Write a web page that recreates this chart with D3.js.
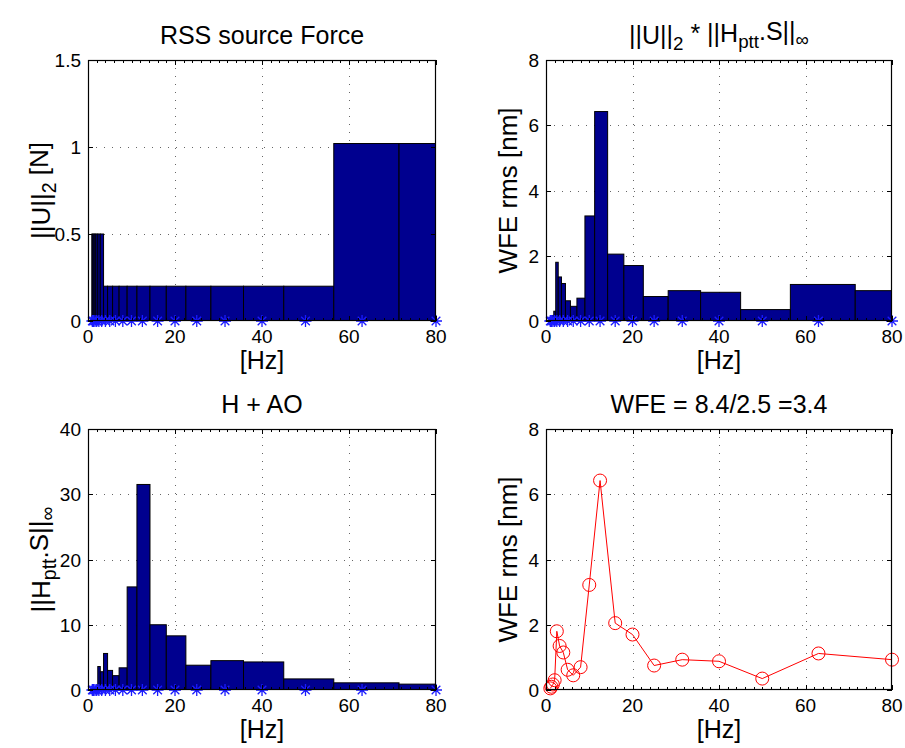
<!DOCTYPE html>
<html>
<head>
<meta charset="utf-8">
<script src="https://cdn.jsdelivr.net/npm/d3@7"></script>
<style>
  body { margin: 0; background: #fff; }
  text { font-family: "Liberation Sans", Arial, Helvetica, sans-serif; fill: #000; }
</style>
</head>
<body>
<svg id="chart" width="905" height="748"></svg>
<script>
// third-octave band centres [Hz]
const freqs = [1, 1.25, 1.6, 2, 2.5, 3.15, 4, 5, 6.3, 8, 10, 12.5, 16, 20, 25, 31.5, 40, 50, 63, 80];
// ||U||_2 [N]
const forceRss = [0.5, 0.5, 0.5, 0.5, 0.5, 0.5, 0.2, 0.2, 0.2, 0.2, 0.2, 0.2, 0.2, 0.2, 0.2, 0.2, 0.2, 0.2, 1.02, 1.02];
// ||Hptt.S||_inf
const hAo = [0.1, 0.2, 0.3, 0.6, 3.6, 2.8, 5.6, 3.0, 2.2, 3.4, 15.8, 31.5, 10.0, 8.3, 3.8, 4.5, 4.3, 1.7, 1.1, 0.9];
// WFE rms [nm]
const wfe = [0.05, 0.1, 0.17, 0.3, 1.8, 1.35, 1.15, 0.62, 0.45, 0.7, 3.22, 6.42, 2.05, 1.7, 0.75, 0.93, 0.88, 0.35, 1.12, 0.93];

const xTicks = [0, 20, 40, 60, 80];
const forceTicks = [0, 0.5, 1, 1.5];
const wfeTicks = [0, 2, 4, 6, 8];
const hTicks = [0, 10, 20, 30, 40];

const svg = d3.select("#chart");
const barColor = "#00008f";
const starColor = "#1a1aff";

// bin edges halfway between neighbouring centres
const edges = freqs.map((f, i) => {
  const n = freqs.length;
  const lo = i === 0 ? f - (freqs[1] - f) / 2 : (freqs[i - 1] + f) / 2;
  const hi = i === n - 1 ? f + (f - freqs[n - 2]) / 2 : (f + freqs[i + 1]) / 2;
  return [lo, hi];
});

function addText(sel, parts) {
  // parts: [text, "sub"|null]
  let sub = false;
  parts.forEach(([t, kind]) => {
    const isSub = kind === "sub";
    const ts = sel.append("tspan").text(t);
    if (isSub && !sub) ts.attr("dy", "0.3em").attr("font-size", "0.75em");
    else if (isSub) ts.attr("font-size", "0.75em");
    else if (!isSub && sub) ts.attr("dy", "-0.3em");
    sub = isSub;
  });
}

function panel(opts) {
  const { x0, x1, y0, y1, id } = opts;
  const g = svg.append("g");
  const x = d3.scaleLinear().domain([0, 80]).range([x0, x1]);
  const y = d3.scaleLinear().domain(opts.yDomain).range([y1, y0]);

  g.append("clipPath").attr("id", id)
    .append("rect").attr("x", x0).attr("y", y0).attr("width", x1 - x0).attr("height", y1 - y0);

  // grid
  const grid = g.append("g").attr("stroke", "#666").attr("stroke-width", 1)
    .attr("stroke-dasharray", "1,7");
  grid.selectAll(".gx").data(xTicks.slice(1, -1)).join("line")
    .attr("x1", d => Math.round(x(d)) + 0.5).attr("x2", d => Math.round(x(d)) + 0.5)
    .attr("y1", y0).attr("y2", y1);
  grid.selectAll(".gy").data(opts.yTicks.slice(1, -1)).join("line")
    .attr("y1", d => Math.round(y(d)) + 0.5).attr("y2", d => Math.round(y(d)) + 0.5)
    .attr("x1", x0).attr("x2", x1);

  // data
  const data = g.append("g");
  if (opts.bars) {
    data.append("g").attr("clip-path", `url(#${id})`)
      .selectAll("rect").data(opts.bars).join("rect")
      .attr("x", (d, i) => x(edges[i][0]))
      .attr("width", (d, i) => x(edges[i][1]) - x(edges[i][0]))
      .attr("y", d => y(d))
      .attr("height", d => y(0) - y(d))
      .attr("fill", barColor)
      .attr("stroke", "#000")
      .attr("stroke-width", 1);
  }

  // axes box with ticks
  const ax = g.append("g").attr("stroke", "#000").attr("fill", "none");
  ax.append("rect").attr("x", x0 + 0.5).attr("y", y0 + 0.5)
    .attr("width", x1 - x0 - 1).attr("height", y1 - y0 - 1).attr("stroke-width", 1.2);
  const minorX = d3.range(0, 81, 2);
  ax.selectAll(".mx").data(minorX).join("path")
    .attr("d", d => {
      const px = Math.round(x(d)) + 0.5;
      return `M${px},${y1}v-3M${px},${y0}v3`;
    });
  ax.selectAll(".tx").data(xTicks).join("path")
    .attr("d", d => {
      const px = Math.round(x(d)) + 0.5;
      return `M${px},${y1}v-5M${px},${y0}v5`;
    });
  ax.selectAll(".ty").data(opts.yTicks).join("path")
    .attr("d", d => {
      const py = Math.round(y(d)) + 0.5;
      return `M${x0},${py}h5M${x1},${py}h-5`;
    });

  if (opts.stars) {
    const s = 6;
    data.append("g").attr("stroke", starColor).attr("stroke-width", 1.3)
      .selectAll("path").data(freqs).join("path")
      .attr("d", d => {
        const px = x(d), py = y(0);
        const k = s * 0.72;
        return `M${px - s},${py}h${2 * s}M${px},${py - s}v${2 * s}` +
          `M${px - k},${py - k}l${2 * k},${2 * k}M${px - k},${py + k}l${2 * k},${-2 * k}`;
      });
  }

  if (opts.line) {
    const line = d3.line().x((d, i) => x(freqs[i])).y(d => y(d));
    data.append("path").datum(opts.line)
      .attr("d", line).attr("fill", "none").attr("stroke", "#ff0000").attr("stroke-width", 1);
    data.append("g").selectAll("circle").data(opts.line).join("circle")
      .attr("cx", (d, i) => x(freqs[i])).attr("cy", d => y(d)).attr("r", 6.5)
      .attr("fill", "none").attr("stroke", "#ff0000").attr("stroke-width", 1);
  }

  // tick labels
  g.append("g").selectAll("text").data(xTicks).join("text")
    .attr("x", d => x(d)).attr("y", y1 + 22)
    .attr("text-anchor", "middle").attr("font-size", 19)
    .text(d => d);
  g.append("g").selectAll("text").data(opts.yTicks).join("text")
    .attr("x", x0 - 7).attr("y", d => y(d) + 7)
    .attr("text-anchor", "end").attr("font-size", 19)
    .text(d => d);

  // x label
  g.append("text").attr("x", (x0 + x1) / 2).attr("y", y1 + 48)
    .attr("text-anchor", "middle").attr("font-size", 25).text("[Hz]");

  // y label
  const yl = g.append("text")
    .attr("transform", `translate(${x0 - opts.yLabelGap},${(y0 + y1) / 2}) rotate(-90)`)
    .attr("text-anchor", "middle").attr("font-size", 26);
  addText(yl, opts.yLabel);

  // title
  const tl = g.append("text").attr("x", (x0 + x1) / 2).attr("y", y0 - 16)
    .attr("text-anchor", "middle").attr("font-size", 25);
  addText(tl, opts.title);
}

panel({
  id: "c1", x0: 88, x1: 436, y0: 60, y1: 321,
  yDomain: [0, 1.5], yTicks: forceTicks,
  bars: forceRss, stars: true,
  title: [["RSS source Force"]],
  yLabel: [["||U||"], ["2", "sub"], [" [N]"]], yLabelGap: 38
});

panel({
  id: "c2", x0: 546, x1: 892, y0: 60, y1: 321,
  yDomain: [0, 8], yTicks: wfeTicks,
  bars: wfe, stars: true,
  title: [["||U||"], ["2", "sub"], [" * ||H"], ["ptt", "sub"], [".S||"], ["\u221e", "sub"]],
  yLabel: [["WFE rms [nm]"]], yLabelGap: 29
});

panel({
  id: "c3", x0: 88, x1: 436, y0: 429, y1: 690,
  yDomain: [0, 40], yTicks: hTicks,
  bars: hAo, stars: true,
  title: [["H + AO"]],
  yLabel: [["||H"], ["ptt", "sub"], [".S||"], ["\u221e", "sub"]], yLabelGap: 38
});

panel({
  id: "c4", x0: 546, x1: 892, y0: 429, y1: 690,
  yDomain: [0, 8], yTicks: wfeTicks,
  line: wfe,
  title: [["WFE = 8.4/2.5 =3.4"]],
  yLabel: [["WFE rms [nm]"]], yLabelGap: 29
});
</script>
</body>
</html>
